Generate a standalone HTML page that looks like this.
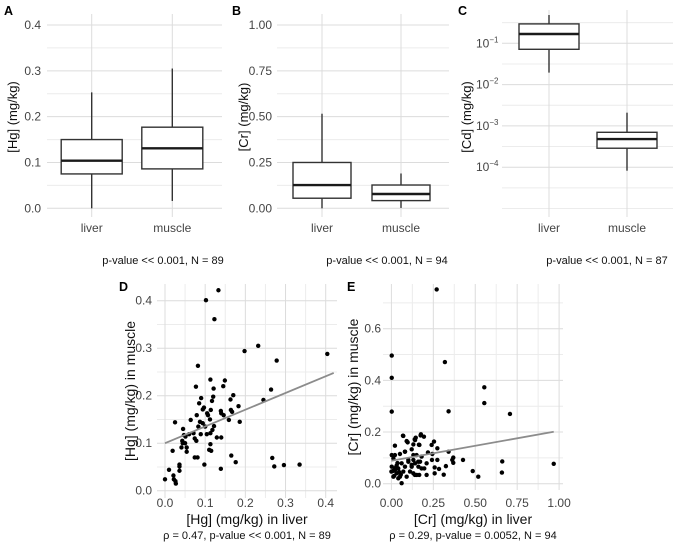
<!DOCTYPE html>
<html><head><meta charset="utf-8"><style>
html,body{margin:0;padding:0;background:#fff;}
svg{display:block;font-family:"Liberation Sans",Arial,sans-serif;}
</style></head><body>
<svg id="fig" width="677" height="544" viewBox="0 0 677 544" xmlns="http://www.w3.org/2000/svg"></svg>
<script>
// ---- data ----
const boxCategories = ["liver","muscle"];
// [min, q1, median, q3, max]
const hgLiver = [0, 0.075, 0.104, 0.15, 0.253];
const hgMuscle = [0.016, 0.086, 0.131, 0.177, 0.305];
const crLiver = [0, 0.055, 0.127, 0.25, 0.516];
const crMuscle = [0.002, 0.042, 0.078, 0.127, 0.19];
const cdLiver = [0.0195, 0.0716, 0.168, 0.295, 0.484];
const cdMuscle = [0.0000822, 0.000288, 0.00048, 0.0007, 0.00209];
const hgTicks = ["0.0","0.1","0.2","0.3","0.4"];
const crTicks = ["0.00","0.25","0.50","0.75","1.00"];
const cdTicks = [-1,-2,-3,-4];
const subtitles = ["p-value << 0.001, N = 89","p-value << 0.001, N = 94","p-value << 0.001, N = 87"];

const dX = [0.102,0.133,0.123,0.232,0.198,0.404,0.278,0.082,0.113,0.149,0.077,0.145,0.121,0.264,0.170,0.120,0.090,0.117,0.245,0.163,0.085,0.183,0.097,0.094,0.114,0.164,0.139,0.079,0.105,0.107,0.140,0.146,0.167,0.159,0.064,0.112,0.087,0.094,0.186,0.025,0.083,0.122,0.100,0.118,0.045,0.113,0.071,0.060,0.089,0.104,0.047,0.051,0.129,0.140,0.074,0.078,0.043,0.044,0.050,0.113,0.041,0.054,0.110,0.019,0.054,0.115,0.165,0.074,0.081,0.267,0.176,0.098,0.296,0.335,0.272,0.139,0.036,0.036,0.036,0.010,0.021,0.022,0.026,0.027,0.000];
const dY = [0.401,0.422,0.361,0.305,0.294,0.288,0.274,0.263,0.234,0.232,0.219,0.220,0.215,0.213,0.201,0.198,0.195,0.189,0.191,0.192,0.184,0.178,0.175,0.171,0.170,0.170,0.168,0.159,0.163,0.159,0.163,0.159,0.166,0.149,0.149,0.150,0.145,0.142,0.145,0.144,0.135,0.136,0.135,0.128,0.130,0.121,0.121,0.119,0.119,0.119,0.117,0.114,0.112,0.112,0.110,0.105,0.105,0.100,0.100,0.098,0.091,0.091,0.086,0.084,0.082,0.084,0.074,0.070,0.070,0.069,0.060,0.055,0.054,0.055,0.051,0.046,0.055,0.051,0.042,0.044,0.032,0.024,0.020,0.015,0.024];
const dFit = [0.100, 0.248];
const dFitX = [0, 0.42];
const dXTicks = ["0.0","0.1","0.2","0.3","0.4"];
const dYTicks = ["0.0","0.1","0.2","0.3","0.4"];

const eX = [0.270,0.319,0.554,0.554,0.341,0.707,0.968,0.661,0.659,0.518,0.485,0.427,0.369,0.369,0.363,0.341,0.325,0.312,0.284,0.274,0.274,0.258,0.258,0.254,0.240,0.244,0.242,0.218,0.210,0.210,0.194,0.176,0.196,0.164,0.145,0.139,0.131,0.097,0.081,0.069,0.150,0.160,0.166,0.131,0.121,0.140,
 0.002,0.002,0.002,0.071,0.021,0.091,0.141,0.174,0.002,0.021,0.012,0.051,0.081,0.121,0.131,0.167,0.180,0.002,0.021,0.031,0.041,0.051,0.061,0.071,0.081,0.091,0.101,0.111,0.121,0.131,0.151,0.161,0.180,0.012,0.041,0.061,0.000,0.141,0.171,0.101,0.021,0.031,0.011,0.046,0.056,0.036,0.016];
const eY = [0.752,0.471,0.373,0.312,0.280,0.270,0.077,0.086,0.043,0.027,0.049,0.092,0.101,0.081,0.092,0.124,0.068,0.035,0.057,0.092,0.137,0.040,0.063,0.163,0.150,0.115,0.092,0.121,0.079,0.034,0.182,0.191,0.059,0.151,0.178,0.172,0.152,0.160,0.124,0.186,0.111,0.085,0.034,0.092,0.066,0.034,
 0.496,0.410,0.279,0.185,0.147,0.165,0.169,0.187,0.111,0.111,0.098,0.115,0.124,0.133,0.111,0.150,0.105,0.066,0.053,0.040,0.059,0.027,0.079,0.047,0.066,0.027,0.085,0.047,0.073,0.040,0.034,0.066,0.059,0.027,0.021,0.002,0.047,0.079,0.085,0.092,0.060,0.070,0.050,0.045,0.035,0.080,0.030];
const eFitX = [0, 0.968];
const eFit = [0.089, 0.201];
const eXTicks = ["0.00","0.25","0.50","0.75","1.00"];
const eYTicks = ["0.0","0.2","0.4","0.6"];

// ---- helpers ----
const NS="http://www.w3.org/2000/svg";
const svg=document.getElementById('fig');
function mk(tag,attrs,parent){const e=document.createElementNS(NS,tag);for(const k in attrs)e.setAttribute(k,attrs[k]);(parent||svg).appendChild(e);return e;}
function txt(s,x,y,size,anchor,fill,parent,rot){const t=mk('text',{x:x,y:y,'font-size':size,'text-anchor':anchor||'middle',fill:fill||'#444'},parent);if(rot)t.setAttribute('transform','rotate(-90 '+x+' '+y+')');t.textContent=s;return t;}
function lin(d0,d1,r0,r1){return v=>r0+(v-d0)/(d1-d0)*(r1-r0);}
const MAJ='#dcdcdc', MIN='#ececec';
const TF=12;

function gridH(g,ys,x0,x1,c){ys.forEach(y=>{const l=mk('line',{x1:x0,x2:x1,y1:y,y2:y,stroke:c,'stroke-width':1},g);});}
function gridV(g,xs,y0,y1,c){xs.forEach(x=>{const l=mk('line',{x1:x,x2:x,y1:y0,y2:y1,stroke:c,'stroke-width':1},g);});}

function drawBox(g,cx,hw,st,ys,name){
  const b=mk('g',{},g);
  
  
  mk('line',{x1:cx,x2:cx,y1:ys(st[0]),y2:ys(st[1]),stroke:'#333','stroke-width':1.4},b);
  mk('line',{x1:cx,x2:cx,y1:ys(st[3]),y2:ys(st[4]),stroke:'#333','stroke-width':1.4},b);
  mk('rect',{x:cx-hw,y:ys(st[3]),width:2*hw,height:ys(st[1])-ys(st[3]),fill:'#fff',stroke:'#333','stroke-width':1.4},b);
  mk('line',{x1:cx-hw,x2:cx+hw,y1:ys(st[2]),y2:ys(st[2]),stroke:'#1a1a1a','stroke-width':2.4},b);
}

function boxPanel(cfg){
  const g=mk('g',{});
  
  
  gridH(g,cfg.minor.map(cfg.ys),cfg.x0,cfg.x1,MIN);
  gridH(g,cfg.major.map(cfg.ys),cfg.x0,cfg.x1,MAJ);
  const xs=lin(0,1,cfg.cx[0],cfg.cx[1]);
  gridV(g,boxCategories.map((c,i)=>xs(i)),cfg.y0,cfg.y1,MAJ);
  drawBox(g,xs(0),cfg.hw,cfg.data[0],cfg.ys,'box-liver');
  drawBox(g,xs(1),cfg.hw,cfg.data[1],cfg.ys,'box-muscle');
  cfg.major.forEach((v,i)=>{
    if(cfg.log){const t=txt('10',cfg.tx-21,cfg.ys(v)+4,TF,'start','#444',g);const s=mk('tspan',{dy:-5,'font-size':8},t);s.textContent='−'+(-cdTicks[i]);
      }
    else{const t=txt(cfg.labels[i],cfg.tx,cfg.ys(v)+4,TF,'end','#444',g);}
  });
  boxCategories.forEach((c,i)=>{const t=txt(c,xs(i),232,TF,'middle','#444',g);});
  const yt=txt(cfg.ytitle,cfg.ytx,117,13,'middle','#111',g,true);
  
  const st=txt(cfg.sub,cfg.subx,264,11,'middle','#111',g);
  
  const pl=mk('text',{x:cfg.lx,y:15,'font-size':12.5,'font-weight':'bold',fill:'#000'},g);pl.textContent=cfg.letter;
  
}

boxPanel({name:'panel-a',x0:47,x1:222,y0:14,y1:217,cx:[91.7,172.3],hw:30.5,
  ys:lin(0,0.4,208.3,25),major:[0,0.1,0.2,0.3,0.4],minor:[0.05,0.15,0.25,0.35],labels:hgTicks,tx:41,
  data:[hgLiver,hgMuscle],ytitle:'[Hg] (mg/kg)',ytx:17,sub:subtitles[0],subx:163,lx:4,letter:'A'});
boxPanel({name:'panel-b',x0:277,x1:449,y0:14,y1:217,cx:[322,401],hw:29,
  ys:lin(0,1,208.3,25),major:[0,0.25,0.5,0.75,1],minor:[0.125,0.375,0.625,0.875],labels:crTicks,tx:272,
  data:[crLiver,crMuscle],ytitle:'[Cr] (mg/kg)',ytx:248,sub:subtitles[1],subx:387,lx:232,letter:'B'});
const cdY=v=>43.3+(-1-Math.log10(v))*41.3;
boxPanel({name:'panel-c',x0:502,x1:673,y0:10,y1:217,cx:[549,627],hw:30,log:true,
  ys:cdY,major:cdTicks.map(p=>Math.pow(10,p)),minor:[-0.5,-1.5,-2.5,-3.5,-4.5,-5].map(p=>Math.pow(10,p)),tx:497,
  data:[cdLiver,cdMuscle],ytitle:'[Cd] (mg/kg)',ytx:471,sub:subtitles[2],subx:607,lx:458,letter:'C'});

function scatter(cfg){
  const g=mk('g',{});
  
  
  gridH(g,cfg.yminor.map(cfg.ys),cfg.x0,cfg.x1,MIN);
  gridV(g,cfg.xminor.map(cfg.xs),cfg.y0,cfg.y1,MIN);
  gridH(g,cfg.ymajor.map(cfg.ys),cfg.x0,cfg.x1,MAJ);
  gridV(g,cfg.xmajor.map(cfg.xs),cfg.y0,cfg.y1,MAJ);
  cfg.X.forEach((x,i)=>{const c=mk('circle',{cx:cfg.xs(x),cy:cfg.ys(cfg.Y[i]),r:2.2,fill:'#000'},g);
    });
  const f=mk('line',{x1:cfg.xs(cfg.fx[0]),y1:cfg.ys(cfg.fy[0]),x2:cfg.xs(cfg.fx[1]),y2:cfg.ys(cfg.fy[1]),stroke:'#8c8c8c','stroke-width':1.8},g);
  
  cfg.xmajor.forEach((v,i)=>{const t=txt(cfg.xl[i],cfg.xs(v),507,TF,'middle','#444',g);});
  cfg.ymajor.forEach((v,i)=>{const t=txt(cfg.yl[i],cfg.tx,cfg.ys(v)+4,TF,'end','#444',g);});
  const xt=txt(cfg.xtitle,(cfg.x0+cfg.x1)/2,524,14,'middle','#111',g);
  
  const yt=txt(cfg.ytitle,cfg.ytx,(cfg.y0+cfg.y1)/2,14,'middle','#111',g,true);
  
  const st=txt(cfg.sub,(cfg.x0+cfg.x1)/2,539,11,'middle','#111',g);
  
  const pl=mk('text',{x:cfg.lx,y:291,'font-size':12.5,'font-weight':'bold',fill:'#000'},g);pl.textContent=cfg.letter;
  
}
scatter({name:'panel-d',x0:157,x1:337,y0:284,y1:498,xs:lin(0,0.4,165,325.7),ys:lin(0,0.4,490.7,300.7),
  xmajor:[0,0.1,0.2,0.3,0.4],xminor:[0.05,0.15,0.25,0.35],ymajor:[0,0.1,0.2,0.3,0.4],yminor:[0.05,0.15,0.25,0.35],
  X:dX,Y:dY,fx:dFitX,fy:dFit,xl:dXTicks,yl:dYTicks,tx:152,xtitle:'[Hg] (mg/kg) in liver',ytitle:'[Hg] (mg/kg) in muscle',ytx:135,
  sub:'ρ = 0.47, p-value << 0.001, N = 89',lx:119,letter:'D'});
scatter({name:'panel-e',x0:383,x1:563,y0:284,y1:490,xs:lin(0,1,391.4,559.1),ys:lin(0,0.6,483.7,328.7),
  xmajor:[0,0.25,0.5,0.75,1],xminor:[0.125,0.375,0.625,0.875],ymajor:[0,0.2,0.4,0.6],yminor:[0.1,0.3,0.5,0.7],
  X:eX,Y:eY,fx:eFitX,fy:eFit,xl:eXTicks,yl:eYTicks,tx:381,xtitle:'[Cr] (mg/kg) in liver',ytitle:'[Cr] (mg/kg) in muscle',ytx:358,
  sub:'ρ = 0.29, p-value =  0.0052, N = 94',lx:347,letter:'E'});
</script>
</body></html>
